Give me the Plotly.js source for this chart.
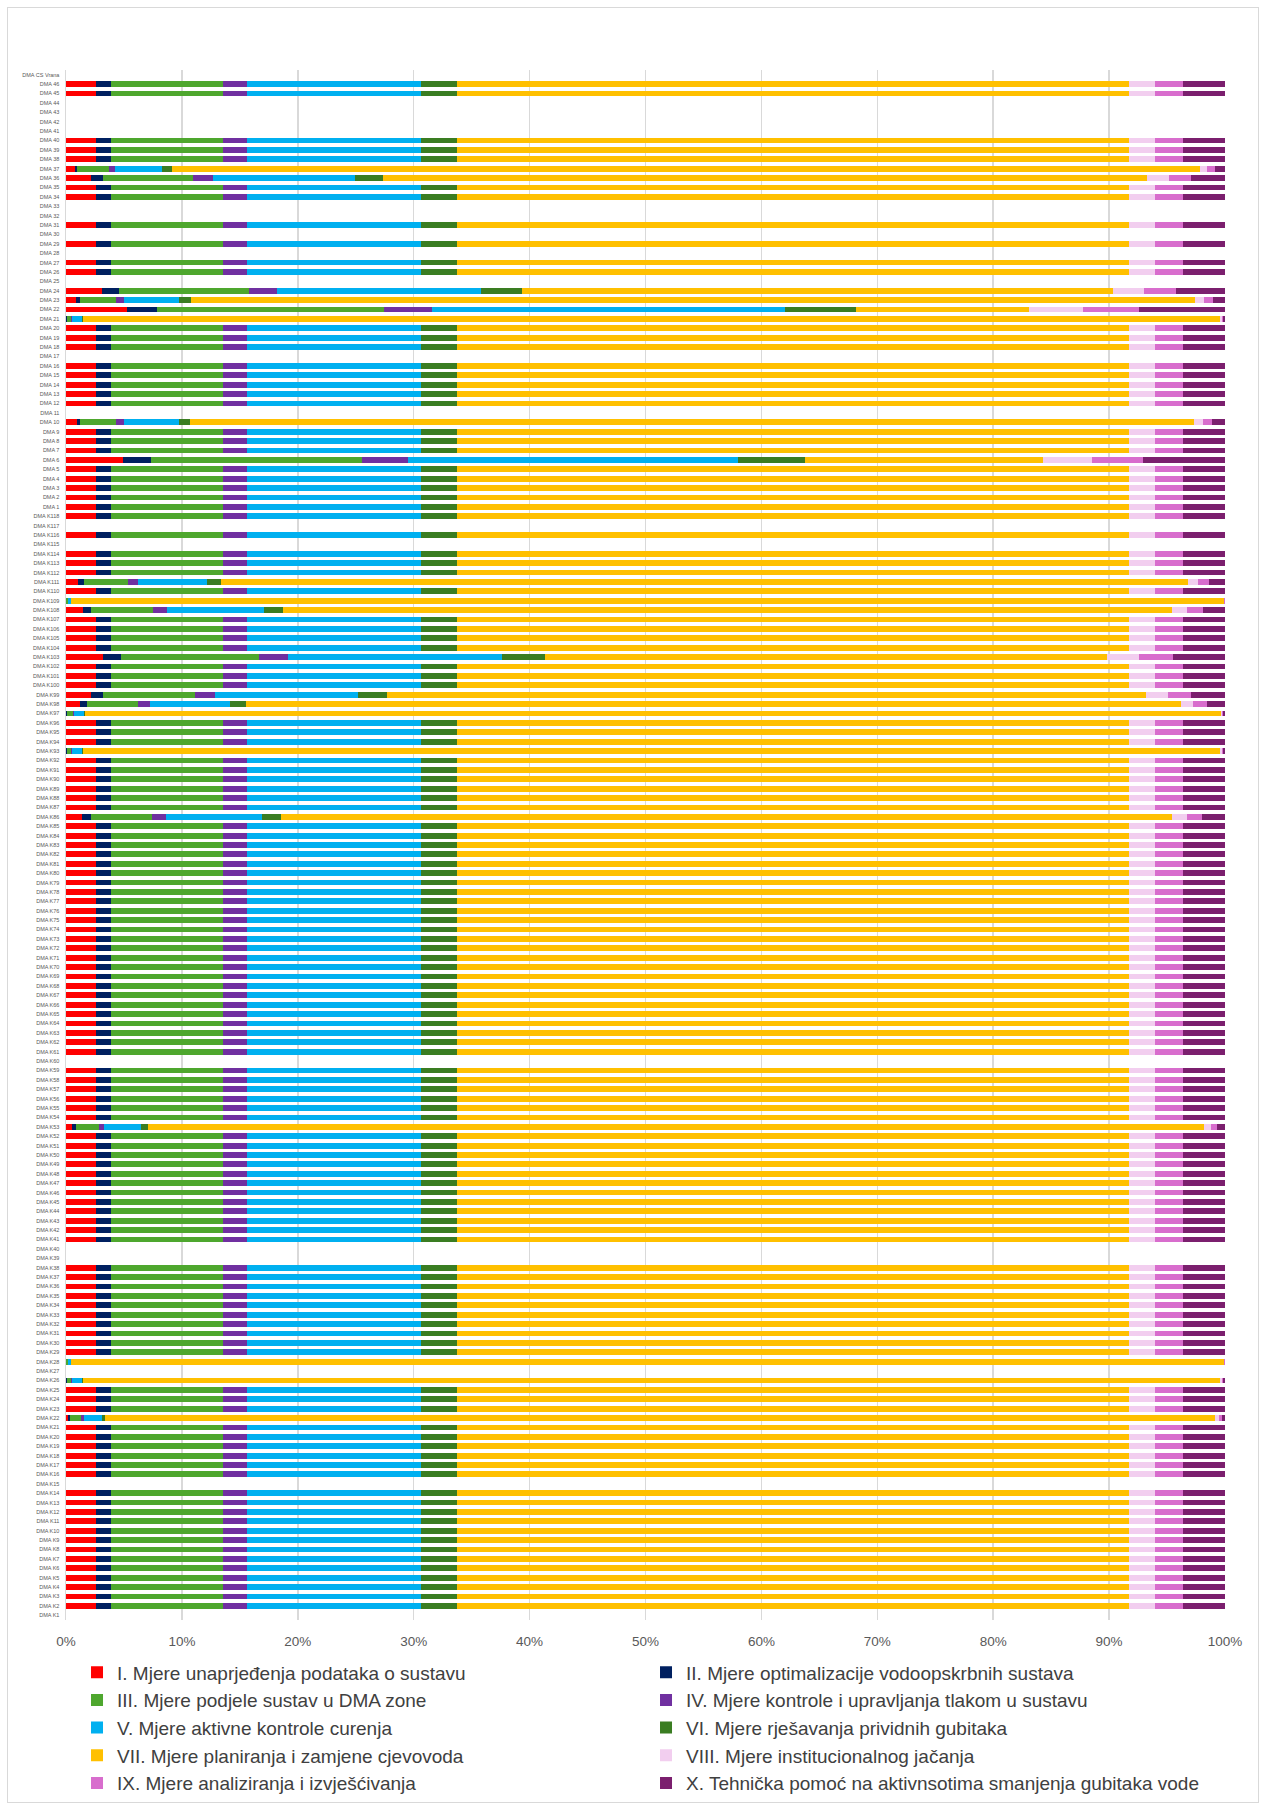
<!DOCTYPE html>
<html>
<head>
<meta charset="utf-8">
<script src="https://cdn.plot.ly/plotly-3.0.1.min.js"></script>
<style>
  html, body { margin: 0; padding: 0; background: #ffffff; }
  #wrap { position: relative; width: 1263px; height: 1809px; }
  #chart { position: absolute; left: 0; top: 0; width: 1263px; height: 1809px; }
  #frame { position: absolute; left: 7px; top: 7px; width: 1250px; height: 1794px; border: 1px solid #d9d9d9; pointer-events: none; }
</style>
</head>
<body>
<div id="wrap"><div id="chart"></div><div id="frame"></div></div>
<script>
// Categories, listed from the top row of the chart to the bottom row
const categories = [
  "DMA CS Vrana","DMA 46","DMA 45","DMA 44","DMA 43","DMA 42","DMA 41","DMA 40","DMA 39","DMA 38",
  "DMA 37","DMA 36","DMA 35","DMA 34","DMA 33","DMA 32","DMA 31","DMA 30","DMA 29","DMA 28",
  "DMA 27","DMA 26","DMA 25","DMA 24","DMA 23","DMA 22","DMA 21","DMA 20","DMA 19","DMA 18",
  "DMA 17","DMA 16","DMA 15","DMA 14","DMA 13","DMA 12","DMA 11","DMA 10","DMA 9","DMA 8",
  "DMA 7","DMA 6","DMA 5","DMA 4","DMA 3","DMA 2","DMA 1",
  "DMA K118","DMA K117","DMA K116","DMA K115","DMA K114","DMA K113","DMA K112","DMA K111","DMA K110","DMA K109",
  "DMA K108","DMA K107","DMA K106","DMA K105","DMA K104","DMA K103","DMA K102","DMA K101","DMA K100","DMA K99",
  "DMA K98","DMA K97","DMA K96","DMA K95","DMA K94","DMA K93","DMA K92","DMA K91","DMA K90","DMA K89",
  "DMA K88","DMA K87","DMA K86","DMA K85","DMA K84","DMA K83","DMA K82","DMA K81","DMA K80","DMA K79",
  "DMA K78","DMA K77","DMA K76","DMA K75","DMA K74","DMA K73","DMA K72","DMA K71","DMA K70","DMA K69",
  "DMA K68","DMA K67","DMA K66","DMA K65","DMA K64","DMA K63","DMA K62","DMA K61","DMA K60","DMA K59",
  "DMA K58","DMA K57","DMA K56","DMA K55","DMA K54","DMA K53","DMA K52","DMA K51","DMA K50","DMA K49",
  "DMA K48","DMA K47","DMA K46","DMA K45","DMA K44","DMA K43","DMA K42","DMA K41","DMA K40","DMA K39",
  "DMA K38","DMA K37","DMA K36","DMA K35","DMA K34","DMA K33","DMA K32","DMA K31","DMA K30","DMA K29",
  "DMA K28","DMA K27","DMA K26","DMA K25","DMA K24","DMA K23","DMA K22","DMA K21","DMA K20","DMA K19",
  "DMA K18","DMA K17","DMA K16","DMA K15","DMA K14","DMA K13","DMA K12","DMA K11","DMA K10","DMA K9",
  "DMA K8","DMA K7","DMA K6","DMA K5","DMA K4","DMA K3","DMA K2","DMA K1"
];

// Measure names (legend)
const seriesNames = [
  "I. Mjere unaprjeđenja podataka o sustavu",
  "II. Mjere optimalizacije vodoopskrbnih sustava",
  "III. Mjere podjele sustav u DMA zone",
  "IV. Mjere kontrole i upravljanja tlakom u sustavu",
  "V. Mjere aktivne kontrole curenja",
  "VI. Mjere rješavanja prividnih gubitaka",
  "VII. Mjere planiranja i zamjene cjevovoda",
  "VIII. Mjere institucionalnog jačanja",
  "IX. Mjere analiziranja i izvješćivanja",
  "X. Tehnička pomoć na aktivnsotima smanjenja gubitaka vode"
];

// Share (%) of each measure I..X, per distinct row profile
const profStd   = [2.62, 1.24, 9.67, 2.10, 15.00, 3.08, 57.97, 2.31, 2.41, 3.60];
const profD37   = [0.75, 0.23, 2.71, 0.51, 4.09, 0.84, 88.67, 0.65, 0.65, 0.90];
const profD36   = [2.14, 1.03, 7.83, 1.67, 12.26, 2.42, 65.88, 1.90, 1.97, 2.90];
const profD24   = [3.08, 1.47, 11.25, 2.42, 17.57, 3.56, 50.95, 2.68, 2.79, 4.23];
const profD23   = [0.84, 0.37, 3.11, 0.66, 4.81, 0.98, 86.61, 0.77, 0.78, 1.07];
const profD22   = [5.30, 2.53, 19.58, 4.19, 30.40, 6.20, 14.90, 4.67, 4.83, 7.40];
const profD21   = [0.03, 0.03, 0.40, 0.10, 0.80, 0.10, 98.14, 0.10, 0.10, 0.20];
const profD10   = [0.92, 0.29, 3.14, 0.63, 4.81, 0.92, 86.59, 0.80, 0.80, 1.10];
const profD6    = [4.94, 2.38, 18.24, 3.98, 28.41, 5.82, 20.53, 4.20, 4.40, 7.10];
const profK111  = [1.04, 0.49, 3.83, 0.83, 5.96, 1.21, 83.42, 0.92, 0.95, 1.35];
const profK109  = [0.00, 0.00, 0.15, 0.00, 0.25, 0.02, 99.50, 0.02, 0.02, 0.04];
const profK108  = [1.47, 0.66, 5.39, 1.18, 8.35, 1.65, 76.70, 1.30, 1.38, 1.92];
const profK103  = [3.23, 1.49, 11.89, 2.54, 18.45, 3.74, 48.44, 2.82, 2.94, 4.46];
const profK99   = [2.16, 1.01, 7.94, 1.73, 12.32, 2.53, 65.49, 1.90, 1.98, 2.94];
const profK98   = [1.21, 0.58, 4.46, 0.98, 6.93, 1.36, 80.65, 1.10, 1.16, 1.57];
const profK97   = [0.00, 0.12, 0.50, 0.05, 0.90, 0.10, 97.96, 0.10, 0.07, 0.20];
const profK93   = [0.03, 0.03, 0.40, 0.10, 0.80, 0.10, 98.14, 0.10, 0.10, 0.20];
const profK86   = [1.41, 0.72, 5.30, 1.18, 8.26, 1.64, 76.89, 1.30, 1.30, 2.00];
const profK53   = [0.55, 0.29, 2.01, 0.40, 3.20, 0.60, 91.15, 0.60, 0.50, 0.70];
const profK28   = [0.00, 0.00, 0.15, 0.00, 0.25, 0.02, 99.50, 0.02, 0.02, 0.04];
const profK26   = [0.03, 0.03, 0.40, 0.10, 0.80, 0.10, 98.14, 0.10, 0.10, 0.20];
const profK22   = [0.17, 0.14, 0.95, 0.26, 1.58, 0.23, 95.77, 0.35, 0.25, 0.30];
const profEmpty = null;

const profiles = {
  std: profStd, d37: profD37, d36: profD36, d24: profD24, d23: profD23, d22: profD22,
  d21: profD21, d10: profD10, d6: profD6, k111: profK111, k109: profK109, k108: profK108,
  k103: profK103, k99: profK99, k98: profK98, k97: profK97, k93: profK93, k86: profK86,
  k53: profK53, k28: profK28, k26: profK26, k22: profK22, empty: profEmpty
};

// Which profile each row (same order as categories) shows
const rowProfile = [
  "empty","std","std","empty","empty","empty","empty","std","std","std",
  "d37","d36","std","std","empty","empty","std","empty","std","empty",
  "std","std","empty","d24","d23","d22","d21","std","std","std",
  "empty","std","std","std","std","std","empty","d10","std","std",
  "std","d6","std","std","std","std","std",
  "std","empty","std","empty","std","std","std","k111","std","k109",
  "k108","std","std","std","std","k103","std","std","std","k99",
  "k98","k97","std","std","std","k93","std","std","std","std",
  "std","std","k86","std","std","std","std","std","std","std",
  "std","std","std","std","std","std","std","std","std","std",
  "std","std","std","std","std","std","std","std","empty","std",
  "std","std","std","std","std","k53","std","std","std","std",
  "std","std","std","std","std","std","std","std","empty","empty",
  "std","std","std","std","std","std","std","std","std","std",
  "k28","empty","k26","std","std","std","k22","std","std","std",
  "std","std","std","empty","std","std","std","std","std","std",
  "std","std","std","std","std","std","std","empty"
];

const colors = ["#FF0000","#002060","#4EA72E","#7030A0","#00B0F0","#3A7D22","#FFC000","#F2CEEF","#D86DCD","#7B1F6E"];

const traces = seriesNames.map((name, i) => ({
  type: "bar",
  orientation: "h",
  name: name,
  y: categories,
  x: rowProfile.map(p => profiles[p] ? profiles[p][i] : null),
  marker: { color: colors[i], line: { width: 0 } },
  hoverinfo: "name+x+y"
}));

const layout = {
  width: 1263,
  height: 1809,
  margin: { l: 66, r: 38, t: 70, b: 189, autoexpand: false },
  paper_bgcolor: "#ffffff",
  plot_bgcolor: "#ffffff",
  barmode: "stack",
  barnorm: "percent",
  bargap: 0.38,
  font: { family: "Liberation Sans, Arial, sans-serif", color: "#595959" },
  xaxis: {
    range: [0, 100],
    tickmode: "array",
    tickvals: [0,10,20,30,40,50,60,70,80,90,100],
    ticktext: ["0%","10%","20%","30%","40%","50%","60%","70%","80%","90%","100%"],
    showgrid: true,
    gridcolor: "#d9d9d9",
    gridwidth: 1.5,
    zeroline: false,
    showline: false,
    ticks: "",
    ticklabelstandoff: 11,
    tickfont: { size: 13.5, color: "#595959" },
    fixedrange: true
  },
  yaxis: {
    type: "category",
    categoryorder: "array",
    categoryarray: categories,
    autorange: "reversed",
    showgrid: false,
    zeroline: false,
    showline: true,
    linecolor: "#d9d9d9",
    linewidth: 1.5,
    ticks: "",
    ticklabelstandoff: 4,
    tickfont: { size: 5.5, color: "#595959" },
    fixedrange: true
  },
  showlegend: true,
  legend: {
    orientation: "h",
    x: 0.0095,
    xanchor: "left",
    y: -0.0215,
    yanchor: "top",
    traceorder: "normal",
    entrywidth: 524,
    entrywidthmode: "pixels",
    font: { size: 19, color: "#404040", family: "Liberation Sans, Arial, sans-serif" },
    bgcolor: "rgba(0,0,0,0)"
  }
};

Plotly.newPlot("chart", traces, layout, { displayModeBar: false, staticPlot: true });
</script>
</body>
</html>
